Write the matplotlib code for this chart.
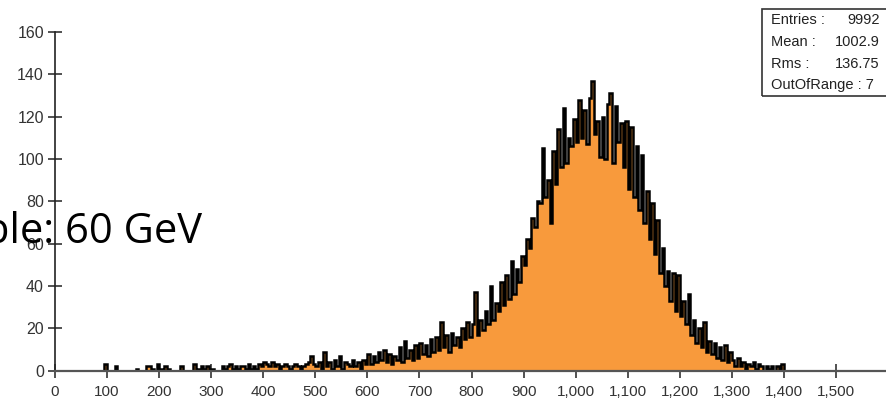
import numpy as np
import matplotlib
matplotlib.use("Agg")
import matplotlib.pyplot as plt
from matplotlib.patches import Rectangle

# ---- data (counts per 5-unit bin, starting at 0) ----
BIN_WIDTH = 5
counts_000 = [0, 0, 0, 0, 0, 0, 0, 0, 0, 0, 0, 0, 0, 0, 0, 0, 0, 0, 0, 3]
counts_100 = [0, 0, 0, 2, 0, 0, 0, 0, 0, 0, 0, 1, 0, 0, 0, 2, 2, 1, 0, 3]
counts_200 = [1, 0, 2, 1, 0, 0, 0, 0, 2, 0, 0, 0, 0, 3, 0, 1, 2, 1, 2, 1]
counts_300 = [1, 0, 0, 0, 2, 1, 2, 3, 1, 2, 1, 2, 2, 1, 3, 1, 2, 1, 3, 2]
counts_400 = [4, 3, 2, 4, 2, 3, 1, 2, 3, 2, 1, 2, 3, 2, 1, 2, 3, 4, 7, 3]
counts_500 = [2, 4, 1, 9, 2, 4, 1, 5, 2, 7, 1, 4, 3, 2, 5, 2, 4, 1, 5, 3]
counts_600 = [8, 3, 7, 4, 9, 5, 10, 4, 8, 3, 7, 5, 11, 4, 14, 6, 10, 5, 12, 6]
counts_700 = [13, 8, 12, 7, 15, 9, 16, 10, 23, 11, 17, 9, 18, 12, 16, 11, 20, 15, 23, 16]
counts_800 = [22, 37, 17, 24, 19, 28, 22, 40, 24, 32, 28, 42, 31, 45, 34, 52, 36, 48, 42, 54]
counts_900 = [50, 62, 58, 72, 68, 80, 79, 105, 82, 90, 70, 104, 88, 114, 96, 124, 98, 110, 106, 119]
counts_1000 = [108, 128, 110, 123, 107, 129, 137, 112, 118, 101, 120, 100, 126, 131, 98, 125, 108, 117, 96, 118]
counts_1100 = [86, 115, 82, 106, 76, 102, 70, 85, 62, 79, 55, 71, 46, 58, 40, 47, 33, 46, 28, 45]
counts_1200 = [26, 33, 22, 36, 17, 24, 13, 20, 11, 23, 9, 14, 8, 13, 6, 11, 5, 12, 4, 9]
counts_1300 = [5, 2, 6, 2, 4, 1, 3, 2, 4, 1, 3, 2, 0, 2, 1, 2, 0, 2, 1, 3]

counts = (counts_000 + counts_100 + counts_200 + counts_300 + counts_400 +
          counts_500 + counts_600 + counts_700 + counts_800 + counts_900 +
          counts_1000 + counts_1100 + counts_1200 + counts_1300)
edges = np.arange(len(counts) + 1) * BIN_WIDTH

x_ticks = list(range(0, 1501, 100))
y_ticks = list(range(0, 161, 20))

stat_names = ["Entries :", "Mean :", "Rms :"]
stat_values = ["9992", "1002.9", "136.75"]
out_of_range = "OutOfRange : 7"
overlay_text = "ble: 60 GeV"

# ---- figure ----
W, H = 887, 400
fig = plt.figure(figsize=(W / 100, H / 100), dpi=100)
fig.patch.set_facecolor("white")

left_px, bottom_px, top_px = 55, 370.7, 32
ax = fig.add_axes([left_px / W, 1 - bottom_px / H, 1 - left_px / W, (bottom_px - top_px) / H])

orange = "#F89A3C"
ax.stairs(counts, edges, fill=True, color=orange, lw=0, zorder=2)
ax.stairs(counts, edges, color="black", lw=1.8, zorder=3)

ax.set_xlim(0, 1598)
ax.set_ylim(0, 160)

for s in ["top", "right"]:
    ax.spines[s].set_visible(False)
ax.spines["left"].set_color("#222222")
ax.spines["left"].set_linewidth(1.2)
ax.spines["left"].set_bounds(0, 160)
ax.spines["bottom"].set_color("#555555")
ax.spines["bottom"].set_linewidth(1.6)
ax.spines["bottom"].set_zorder(4)

ax.set_xticks(x_ticks)
ax.set_xticklabels([f"{v:,}" for v in x_ticks])
ax.set_yticks(y_ticks)
ax.set_yticklabels([str(v) for v in y_ticks])

ax.tick_params(axis="both", direction="inout", length=10, width=1.1,
               color="#222222", labelcolor="#333333")
ax.tick_params(axis="x", pad=5)
ax.tick_params(axis="y", pad=3)
for lab in ax.get_xticklabels():
    lab.set_fontfamily("Liberation Sans")
    lab.set_fontsize(11)
for lab in ax.get_yticklabels():
    lab.set_fontfamily("Liberation Sans")
    lab.set_fontsize(11.5)

# ---- stats box ----
fig.add_artist(Rectangle((762 / W, 1 - 96 / H), 0.3, 87 / H, transform=fig.transFigure,
                         fill=False, ec="#333333", lw=1.2, clip_on=False))
line_y = [20.5, 42, 63.5]
for name, val, yy in zip(stat_names, stat_values, line_y):
    fig.text(771 / W, 1 - yy / H, name, ha="left", va="center",
             fontsize=10.5, family="Liberation Sans", color="#222222")
    fig.text(880 / W, 1 - yy / H, val, ha="right", va="center",
             fontsize=10.5, family="Liberation Sans", color="#222222")
fig.text(771 / W, 1 - 85 / H, out_of_range, ha="left", va="center",
         fontsize=10.5, family="Liberation Sans", color="#222222")

# ---- overlay text ----
fig.text(202 / W, 1 - 243 / H, overlay_text, ha="right", va="baseline",
         fontsize=30, family="Open Sans", color="black", zorder=10)

fig.savefig("out.png", dpi=100)
